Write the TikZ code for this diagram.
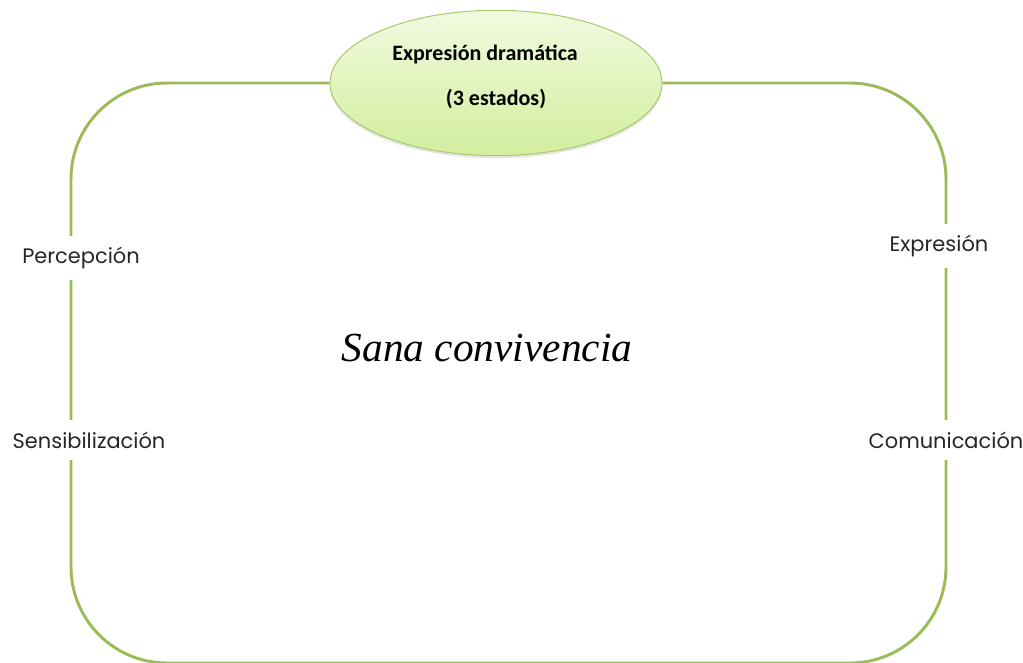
\documentclass[tikz,border=0pt]{standalone}
\usepackage{fontspec}
\setmainfont{Liberation Serif}
\newfontfamily\statefont{Carlito}
\newfontfamily\stagefont{Poppins}
\usepackage{tikz}
\usetikzlibrary{shapes,shadows,positioning}
\definecolor{olivegreen}{RGB}{155,187,89}
\definecolor{ovaledge}{RGB}{172,202,112}
\definecolor{ovaltop}{RGB}{241,250,224}
\definecolor{ovalbottom}{RGB}{210,238,158}
\tikzstyle{frame} = [draw=olivegreen, line width=2.2pt, rounded corners=72pt]
\tikzstyle{state} = [ellipse, draw=ovaledge, line width=0.8pt, top color=ovaltop, bottom color=ovalbottom, minimum width=249pt, minimum height=109pt, align=center, text depth=12pt, drop shadow={opacity=0.2, shadow xshift=0pt, shadow yshift=-2pt}, font=\statefont\bfseries\fontsize{16.5}{34}\selectfont]
\tikzstyle{stage} = [fill=white, inner xsep=2pt, inner ysep=8.5pt, text=black!85, font=\stagefont\fontsize{15.7}{17}\selectfont]
\tikzstyle{motto} = [font=\itshape\fontsize{31}{33}\selectfont]

\begin{document}
\begin{tikzpicture}[x=0.75pt, y=0.75pt]
	\useasboundingbox (0,0) rectangle (1023,662);
	
	\node [state] (drama) at (496,579) {Expresión dramática\hspace{1em} \\ (3 estados)};
	
	\coordinate (tl) at (71,579);
	\coordinate (bl) at (71,-1);
	\coordinate (br) at (946,-1);
	\coordinate (tr) at (946,579);
	\draw [frame] (drama.west) -- (tl) -- (bl) -- (br) -- (tr) -- (drama.east);
	
	\node [stage] (perc) at (81,404) {Percepción};
	\node [stage] (sens) at (89,222) {Sensibilización};
	\node [stage] (expr) at (939,416) {Expresión};
	\node [stage] (comu) at (946,222) {Comunicación};
	
	\node [motto] (sana) at (487,314) {Sana convivencia};
\end{tikzpicture}
\end{document}
